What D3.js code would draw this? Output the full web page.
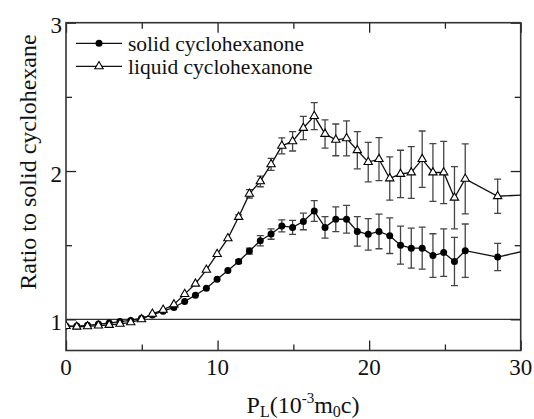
<!DOCTYPE html>
<html>
<head>
<meta charset="utf-8">
<script src="https://cdn.jsdelivr.net/npm/d3@7"></script>
<style>
  body { margin: 0; background: #fff; }
  svg text { font-family: 'Liberation Serif', 'Times New Roman', Times, 'DejaVu Serif', serif; }
</style>
</head>
<body>
<svg width="534" height="419"></svg>
<script>
// momentum values (x axis)
const pL = [0, 0.71, 1.42, 2.14, 2.85, 3.56, 4.27, 4.98, 5.70, 6.41,
  7.12, 7.83, 8.54, 9.26, 9.97, 10.68, 11.39, 12.10, 12.82, 13.53,
  14.24, 14.95, 15.66, 16.38, 17.09, 17.80, 18.51, 19.22, 19.94, 20.65,
  21.36, 22.07, 22.78, 23.50, 24.21, 24.92, 25.63, 26.34, 28.48, 30.62]

// solid cyclohexanone ratio + error
const solid = [0.955, 0.955, 0.96, 0.968, 0.975, 0.985, 0.993, 1.008, 1.03, 1.055,
  1.08, 1.12, 1.163, 1.21, 1.27, 1.33, 1.39, 1.46, 1.53, 1.575,
  1.63, 1.62, 1.66, 1.73, 1.62, 1.675, 1.675, 1.593, 1.573, 1.593,
  1.564, 1.50, 1.48, 1.48, 1.43, 1.45, 1.39, 1.463, 1.42, 1.47]
const solidErr = [0, 0, 0, 0, 0, 0, 0, 0, 0, 0,
  0, 0, 0, 0, 0, 0, 0.012, 0.02, 0.034, 0.035,
  0.04, 0.047, 0.056, 0.07, 0.072, 0.083, 0.093, 0.099, 0.106, 0.117,
  0.12, 0.128, 0.135, 0.142, 0.147, 0.16, 0.163, 0.18, 0.092, 0.1]

// liquid cyclohexanone ratio + error
const liquid = [0.955, 0.95, 0.953, 0.958, 0.962, 0.97, 0.98, 1.0, 1.037, 1.064,
  1.10, 1.17, 1.24, 1.334, 1.44, 1.546, 1.69, 1.846, 1.93, 2.045,
  2.17, 2.20, 2.29, 2.37, 2.25, 2.21, 2.22, 2.14, 2.06, 2.08,
  1.95, 1.98, 1.99, 2.08, 1.99, 1.99, 1.82, 1.947, 1.83, 1.84]
const liquidErr = [0, 0, 0, 0, 0, 0, 0, 0, 0, 0,
  0, 0, 0, 0, 0, 0, 0.015, 0.028, 0.036, 0.04,
  0.054, 0.065, 0.078, 0.091, 0.095, 0.107, 0.118, 0.125, 0.133, 0.145,
  0.146, 0.16, 0.175, 0.19, 0.195, 0.21, 0.21, 0.236, 0.116, 0.12]

const xMajor = [0, 10, 20, 30]
const xMinor = [5, 15, 25]
const yMajor = [1, 2, 3]
const yMinor = [1.5, 2.5]

const legendLabels = ['solid cyclohexanone', 'liquid cyclohexanone']

const serif = "'Liberation Serif', 'Times New Roman', Times, 'DejaVu Serif', serif"
const svg = d3.select('svg')
const plotL = 66, plotR = 520.7, plotT = 22.7, plotB = 350.5

const xScale = d3.scaleLinear().domain([0, 30]).range([plotL, plotR])
const yScale = d3.scaleLinear().domain([0.79, 3]).range([plotB, plotT])

const ink = '#222'

/* CLIP TO PLOT AREA */
svg.append('clipPath').attr('id', 'clip')
  .append('rect')
  .attr('x', plotL).attr('y', plotT)
  .attr('width', plotR - plotL).attr('height', plotB - plotT)

/* REFERENCE LINE AT 1 */
svg.append('line')
  .attr('x1', plotL).attr('x2', plotR)
  .attr('y1', yScale(1)).attr('y2', yScale(1))
  .attr('stroke', '#333').attr('stroke-width', 1.3)

/* AXES: ticks inward on all four sides */
const xTicks = [...xMajor, ...xMinor].sort((a, b) => a - b)
const yTicks = [...yMajor, ...yMinor].sort((a, b) => a - b)
const xTickLen = d => (xMajor.includes(d) ? 10 : 6)
const yTickLen = d => (yMajor.includes(d) ? 10 : 6)

const xb = svg.append('g').attr('transform', `translate(0,${plotB})`)
  .call(d3.axisBottom(xScale).tickValues(xTicks).tickFormat('').tickSizeOuter(0))
const xt = svg.append('g').attr('transform', `translate(0,${plotT})`)
  .call(d3.axisTop(xScale).tickValues(xTicks).tickFormat('').tickSizeOuter(0))
const yl = svg.append('g').attr('transform', `translate(${plotL},0)`)
  .call(d3.axisLeft(yScale).tickValues(yTicks).tickFormat('').tickSizeOuter(0))
const yr = svg.append('g').attr('transform', `translate(${plotR},0)`)
  .call(d3.axisRight(yScale).tickValues(yTicks).tickFormat('').tickSizeOuter(0))

xb.selectAll('.tick line').attr('y2', d => -xTickLen(d))
xt.selectAll('.tick line').attr('y2', d => xTickLen(d))
yl.selectAll('.tick line').attr('x2', d => yTickLen(d))
yr.selectAll('.tick line').attr('x2', d => -yTickLen(d))
;[xb, xt, yl, yr].forEach(g => {
  g.select('.domain').remove()
  g.selectAll('.tick line').attr('stroke', ink).attr('stroke-width', 1.3)
})

svg.append('rect')
  .attr('x', plotL).attr('y', plotT)
  .attr('width', plotR - plotL).attr('height', plotB - plotT)
  .attr('fill', 'none').attr('stroke', '#333').attr('stroke-width', 1.6)

/* TICK LABELS */
svg.selectAll('.xlab').data(xMajor).enter().append('text')
  .attr('x', d => xScale(d)).attr('y', 375)
  .attr('text-anchor', 'middle')
  .attr('font-family', serif)
  .attr('font-size', 23).attr('fill', '#111')
  .text(d => d)

svg.selectAll('.ylab').data(yMajor).enter().append('text')
  .attr('x', 62).attr('y', d => yScale(d) + 10.5)
  .attr('text-anchor', 'end')
  .attr('font-family', serif)
  .attr('font-size', 23).attr('fill', '#111')
  .text(d => d)

/* AXIS TITLES */
svg.append('text')
  .attr('transform', 'translate(35.5,162) rotate(-90)')
  .attr('text-anchor', 'middle')
  .attr('font-family', serif)
  .attr('font-size', 24).attr('fill', '#111')
  .text('Ratio to solid cyclohexane')

const xTitle = svg.append('text')
  .attr('x', 303).attr('y', 413)
  .attr('text-anchor', 'middle')
  .attr('font-family', serif)
  .attr('font-size', 24).attr('fill', '#111')
xTitle.append('tspan').text('P')
xTitle.append('tspan').attr('font-size', 16).attr('dy', 4).text('L')
xTitle.append('tspan').attr('dy', -4).text('(10')
xTitle.append('tspan').attr('font-size', 15).attr('dy', -10).text('-3')
xTitle.append('tspan').attr('dy', 10).text('m')
xTitle.append('tspan').attr('font-size', 16).attr('dy', 4).text('0')
xTitle.append('tspan').attr('dy', -4).text('c)')

/* SERIES */
const series = [
  { name: legendLabels[0], ys: solid, err: solidErr, filled: true },
  { name: legendLabels[1], ys: liquid, err: liquidErr, filled: false }
]

const plot = svg.append('g').attr('clip-path', 'url(#clip)')
const line = d3.line().x(d => xScale(d[0])).y(d => yScale(d[1]))
const triangle = d3.symbol().type(d3.symbolTriangle).size(30)

series.forEach(s => {
  const pts = pL.map((x, i) => [x, s.ys[i], s.err[i]])

  // error bars
  const eb = plot.append('g').attr('stroke', '#444').attr('stroke-width', 1.3)
  pts.filter(d => d[2] > 0).forEach(d => {
    const cx = xScale(d[0]), y0 = yScale(d[1] - d[2]), y1 = yScale(d[1] + d[2])
    eb.append('line').attr('x1', cx).attr('x2', cx).attr('y1', y0).attr('y2', y1)
    eb.append('line').attr('x1', cx - 3.5).attr('x2', cx + 3.5).attr('y1', y0).attr('y2', y0)
    eb.append('line').attr('x1', cx - 3.5).attr('x2', cx + 3.5).attr('y1', y1).attr('y2', y1)
  })

  plot.append('path').datum(pts)
    .attr('d', line)
    .attr('fill', 'none').attr('stroke', '#111').attr('stroke-width', 1.3)
})

series.forEach(s => {
  const pts = pL.map((x, i) => [x, s.ys[i]])
  if (s.filled) {
    plot.selectAll(null).data(pts).enter().append('circle')
      .attr('cx', d => xScale(d[0])).attr('cy', d => yScale(d[1]))
      .attr('r', 3.5).attr('fill', '#000')
  } else {
    plot.selectAll(null).data(pts).enter().append('path')
      .attr('d', triangle)
      .attr('transform', d => `translate(${xScale(d[0])},${yScale(d[1])})`)
      .attr('fill', '#fff').attr('stroke', '#000').attr('stroke-width', 1.1)
  }
})

/* LEGEND */
const lg = svg.append('g')
series.forEach((s, i) => {
  const ly = 43.3 + i * 23
  lg.append('line').attr('x1', 76).attr('x2', 122).attr('y1', ly).attr('y2', ly)
    .attr('stroke', '#111').attr('stroke-width', 1.3)
  if (s.filled) {
    lg.append('circle').attr('cx', 99).attr('cy', ly).attr('r', 3.5).attr('fill', '#000')
  } else {
    lg.append('path').attr('d', triangle).attr('transform', `translate(99,${ly})`)
      .attr('fill', '#fff').attr('stroke', '#000').attr('stroke-width', 1.1)
  }
  lg.append('text').attr('x', 128).attr('y', ly + 8)
    .attr('font-family', serif)
    .attr('font-size', 21.5).attr('fill', '#111')
    .text(s.name)
})
</script>
</body>
</html>
